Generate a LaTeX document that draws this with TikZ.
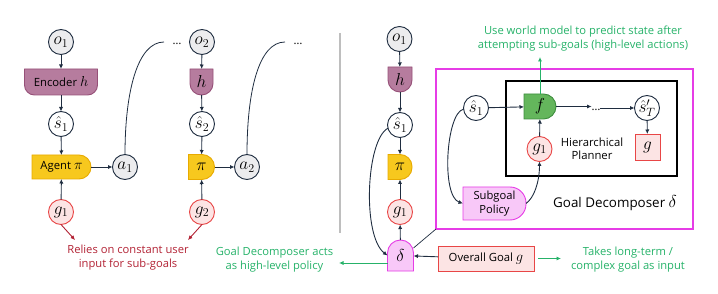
\documentclass[tikz,border=0pt]{standalone}
\usepackage{fontspec}
\setmainfont{Open Sans}
\usetikzlibrary{arrows.meta,backgrounds}
\definecolor{navy}{RGB}{31,45,64}
\definecolor{lgray}{RGB}{236,236,238}
\definecolor{mauve}{RGB}{182,124,158}
\definecolor{mauveD}{RGB}{150,80,120}
\definecolor{yel}{RGB}{247,200,30}
\definecolor{yelD}{RGB}{232,170,0}
\definecolor{gred}{RGB}{232,70,70}
\definecolor{gpink}{RGB}{252,228,228}
\definecolor{fgreen}{RGB}{100,182,92}
\definecolor{fgreenD}{RGB}{62,142,62}
\definecolor{mfill}{RGB}{248,200,248}
\definecolor{mdraw}{RGB}{230,60,230}
\definecolor{tgreen}{RGB}{38,178,105}
\definecolor{tred}{RGB}{178,34,52}
\definecolor{sepgray}{RGB}{190,190,190}
% shape behind a rectangular node: name, style, r_ne, r_se, r_sw, r_nw
\newcommand\rshape[6]{%
  \filldraw[#2] ([xshift=#6]#1.north west) -- ([xshift=-#3]#1.north east)
    arc[start angle=90,end angle=0,radius=#3] -- ([yshift=#4]#1.south east)
    arc[start angle=0,end angle=-90,radius=#4] -- ([xshift=#5]#1.south west)
    arc[start angle=270,end angle=180,radius=#5] -- ([yshift=-#6]#1.north west)
    arc[start angle=180,end angle=90,radius=#6] -- cycle;}
\newcommand\bm[1]{{\fontsize{15}{16}\selectfont$#1$}}
\begin{document}
\begin{tikzpicture}[x=1pt,y=1pt,
  font=\fontsize{11.3}{13}\selectfont,
  every node/.style={inner sep=0pt,outer sep=0pt},
  mth/.style={font=\fontsize{17}{18}\selectfont},
  circ/.style={circle,draw=navy,line width=0.9pt,minimum size=25pt,mth},
  obs/.style={circ,fill=lgray},
  est/.style={circ,fill=white},
  goalc/.style={circ,draw=gred,fill=gpink},
  shp/.style={rectangle},
  arr/.style={draw=navy,line width=0.9pt,-{Latex[length=4.5pt,width=4.2pt]}},
  plain/.style={draw=navy,line width=0.8pt},
  redarr/.style={draw=tred,line width=0.9pt,-{Latex[length=4.5pt,width=4.2pt]}},
  grarr/.style={draw=tgreen,line width=0.9pt,-{Latex[length=4.5pt,width=4.2pt]}},
  encS/.style={fill=mauve,draw=mauveD,line width=0.9pt},
  yelS/.style={fill=yel,draw=yelD,line width=0.9pt},
  grS/.style={fill=fgreen,draw=fgreenD,line width=0.9pt},
  magS/.style={fill=mfill,draw=mdraw,line width=0.9pt},
  gtext/.style={text=tgreen,align=center,font=\fontsize{11.2}{14}\selectfont},
  rtext/.style={text=tred,align=center,font=\fontsize{11.2}{14}\selectfont}
]
\useasboundingbox (0,0) rectangle (718,-294);

% ---------- left panel ----------
\node[obs] (o1) at (61,-42) {$o_1$};
\node[shp,minimum width=73pt,minimum height=26pt] (enc) at (61,-82) {Encoder \bm{h}};
\node[est] (s1) at (61,-124) {$\hat{s}_1$};
\node[shp,minimum width=59pt,minimum height=24pt] (ag) at (61.5,-167) {Agent \bm{\pi}};
\node[obs] (a1) at (125,-167) {$a_1$};
\node[goalc] (g1) at (61,-212) {$g_1$};

\node[obs] (o2) at (202,-42) {$o_2$};
\node[shp,minimum width=23pt,minimum height=26pt,mth] (h2) at (201.5,-82) {$h$};
\node[est] (s2) at (202,-124) {$\hat{s}_2$};
\node[shp,minimum width=26pt,minimum height=25pt,mth] (pi2) at (201.5,-167) {$\pi$};
\node[obs] (a2) at (247,-167) {$a_2$};
\node[goalc] (g2) at (202,-212) {$g_2$};

\node[anchor=base] (d1) at (177,-45) {…};
\node[anchor=base] (d2) at (298,-45) {…};
\coordinate (c1) at (164,-42);
\coordinate (c2) at (285,-42);
\coordinate (r1) at (75,-240);
\coordinate (r2) at (188,-240);

\node[rtext] (relies) at (128,-258) {Relies on constant user\\input for sub-goals};

\begin{pgfonlayer}{background}
  \rshape{enc}{encS}{0.01pt}{10pt}{10pt}{0.01pt}
  \rshape{ag}{yelS}{12pt}{12pt}{0.01pt}{0.01pt}
  \rshape{h2}{encS}{0.01pt}{11.5pt}{11.5pt}{0.01pt}
  \rshape{pi2}{yelS}{12.5pt}{12.5pt}{0.01pt}{0.01pt}
\end{pgfonlayer}

\draw[arr] (o1) -- (enc);
\draw[arr] (enc) -- (s1);
\draw[arr] (s1) -- (ag);
\draw[arr] (g1) -- (ag);
\draw[arr] (ag) -- (a1);
\draw[plain] (a1.north) .. controls (125,-90) and (138,-42) .. (c1);
\draw[redarr] (g1.south) -- (r1);

\draw[arr] (o2) -- (h2);
\draw[arr] (h2) -- (s2);
\draw[arr] (s2) -- (pi2);
\draw[arr] (g2) -- (pi2);
\draw[arr] (pi2) -- (a2);
\draw[plain] (a2.north) .. controls (247,-90) and (259,-42) .. (c2);
\draw[redarr] (g2.south) -- (r2);

% separator
\draw[sepgray,line width=1.3pt] (340,-33) -- (340,-233);

% ---------- right panel ----------
\node[draw=mdraw,line width=1.4pt,minimum width=257pt,minimum height=160pt] (mag) at (564.5,-149) {};
\node[draw=black,line width=1.1pt,minimum width=171pt,minimum height=95pt] (hp) at (591.5,-128.5) {};

\node[obs] (o1r) at (399.5,-39) {$o_1$};
\node[shp,minimum width=24pt,minimum height=25pt,mth] (hr) at (400,-79.5) {$h$};
\node[est] (s1r) at (400,-125) {$\hat{s}_1$};
\node[shp,minimum width=24pt,minimum height=25pt,mth] (pir) at (400,-167) {$\pi$};
\node[goalc] (g1r) at (400,-212) {$g_1$};
\node[shp,minimum width=26pt,minimum height=31pt,mth] (dl) at (400.5,-255.5) {\raisebox{-3pt}{$\delta$}};

\node[est] (s1in) at (476,-108) {$\hat{s}_1$};
\node[shp,minimum width=32pt,minimum height=25pt,mth] (f) at (540,-106.5) {$f$};
\node[anchor=base] (d3) at (596,-111) {…};
\node[est] (sT) at (647,-108) {$\hat{s}'_T$};
\node[goalc] (g1in) at (539.5,-149) {$g_1$};
\node[align=center] (hpl) at (592,-149) {Hierarchical\\Planner};
\node[shp,draw=gred,fill=gpink,line width=0.9pt,minimum width=25pt,minimum height=26pt,mth] (gb) at (647.5,-147) {$g$};
\node[shp,minimum width=63pt,minimum height=33pt,align=center,font=\fontsize{11.2}{13.5}\selectfont] (sub) at (494.5,-203.5) {Subgoal\\Policy};
\node[font=\fontsize{13.4}{16}\selectfont] (gd) at (615,-203) {Goal Decomposer {\fontsize{16}{17}\selectfont$\delta$}};
\node[shp,draw=gred,fill=gpink,line width=0.9pt,minimum width=96pt,minimum height=25pt] (og) at (486,-258.5) {Overall Goal \bm{g}};

\node[gtext] (wm) at (583,-39) {Use world model to predict state after\\attempting sub-goals (high-level actions)};
\node[gtext] (gdt) at (274.5,-260) {Goal Decomposer acts\\as high-level policy};
\node[gtext] (tl) at (628,-260) {Takes long-term /\\complex goal as input};

\coordinate (wmA) at (540,-57);
\coordinate (lgA) at (339,-263);
\coordinate (rgA) at (561,-258.5);

\begin{pgfonlayer}{background}
  \rshape{hr}{encS}{0.01pt}{12pt}{12pt}{0.01pt}
  \rshape{pir}{yelS}{12pt}{12pt}{0.01pt}{0.01pt}
  \rshape{dl}{magS}{13pt}{0.01pt}{0.01pt}{13pt}
  \rshape{f}{grS}{12.5pt}{12.5pt}{0.01pt}{0.01pt}
  \rshape{sub}{magS}{16pt}{16pt}{0.01pt}{0.01pt}
\end{pgfonlayer}

\draw[arr] (o1r) -- (hr);
\draw[arr] (hr) -- (s1r);
\draw[arr] (s1r) -- (pir);
\draw[arr] (g1r) -- (pir);
\draw[arr] (dl) -- (g1r);
\draw[arr] (og) -- (dl);
\draw[arr] (s1r.195) .. controls (366,-140) and (362,-236) .. (dl.west);
\draw[draw=navy,line width=0.7pt] (dl.30) -- (mag.south west);

\draw[arr] (s1in) -- (f);
\draw[arr] (f) -- (d3.west |- f);
\draw[arr] (d3.east |- sT) -- (sT);
\draw[arr] (sT) -- (gb);
\draw[arr] (g1in) -- (f);
\draw[arr] (s1in.185) .. controls (446,-113) and (441,-196) .. (sub.west);
\draw[arr] (sub.east) .. controls (534,-198) and (539.5,-182) .. (g1in.south);

\draw[grarr] (f.north) -- (wmA);
\draw[grarr] ([yshift=-7.5pt]dl.west) -- (lgA);
\draw[grarr] ([xshift=4pt]og.east) -- (rgA);
\end{tikzpicture}
\end{document}
